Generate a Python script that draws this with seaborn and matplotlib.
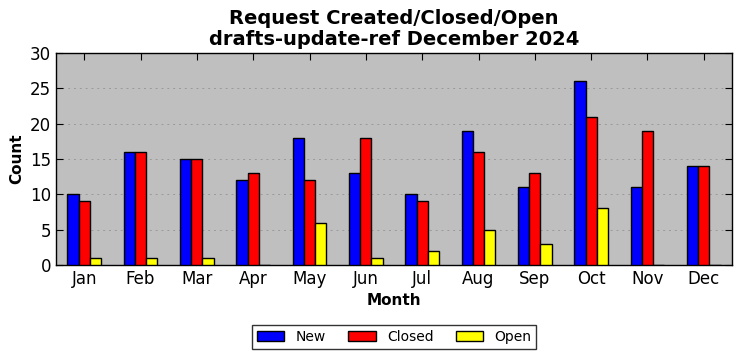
import matplotlib
matplotlib.use("Agg")
import matplotlib.pyplot as plt
import seaborn as sns
import pandas as pd

months = ["Jan", "Feb", "Mar", "Apr", "May", "Jun", "Jul", "Aug", "Sep", "Oct", "Nov", "Dec"]
new = [10, 16, 15, 12, 18, 13, 10, 19, 11, 26, 11, 14]
closed = [9, 16, 15, 13, 12, 18, 9, 16, 13, 21, 19, 14]
open_ = [1, 1, 1, 0, 6, 1, 2, 5, 3, 8, 0, 0]
series = ["New", "Closed", "Open"]
colors = ["#0000ff", "#ff0000", "#ffff00"]

df = pd.DataFrame({
    "Month": months * 3,
    "Count": new + closed + open_,
    "Series": ["New"] * 12 + ["Closed"] * 12 + ["Open"] * 12,
})

fig = plt.figure(figsize=(7.42, 3.61), dpi=100)
ax = fig.add_axes([56 / 742, 1 - 265 / 361, 676 / 742, 212 / 361])
ax.set_facecolor("#bfbfbf")
sns.barplot(data=df, x="Month", y="Count", hue="Series", hue_order=series,
            order=months, palette=colors, width=0.6, edgecolor="black",
            linewidth=1, saturation=1, ax=ax, zorder=3, gap=0)
ax.set_ylim(0, 30)
ax.set_xlim(-0.5, 11.5)
ax.set_yticks([0, 5, 10, 15, 20, 25, 30])
ax.yaxis.grid(True, linestyle=(0, (2, 4)), color="#999999", linewidth=0.7, zorder=0)
ax.set_axisbelow(True)
ax.tick_params(direction="in", top=True, right=True, labelsize=12, length=5)
for s in ax.spines.values():
    s.set_linewidth(1)
    s.set_color("black")
ax.set_xlabel("Month", fontsize=11, fontweight="bold")
ax.set_ylabel("Count", fontsize=11, fontweight="bold")
ax.set_title("Request Created/Closed/Open\ndrafts-update-ref December 2024",
             fontsize=14, fontweight="bold", linespacing=1.1)
leg = ax.legend(loc="upper center", bbox_to_anchor=(0.5, -0.25), ncol=3,
                frameon=True, fancybox=False, edgecolor="black", fontsize=10,
                columnspacing=1.6, handlelength=2.0, borderpad=0.35)
leg.get_frame().set_linewidth(1)
fig.savefig("out.png", dpi=100)
